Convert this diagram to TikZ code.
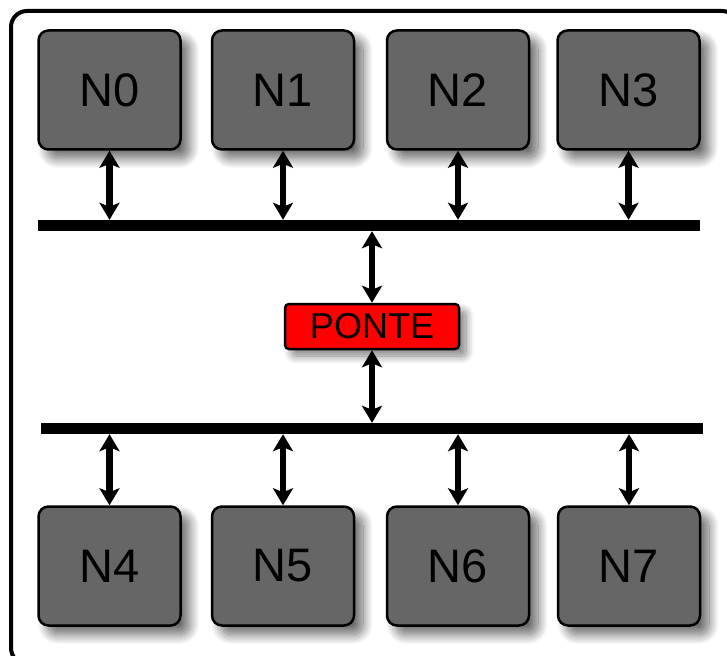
\documentclass[tikz,border=0pt]{standalone}
\usepackage{fontspec}
\setmainfont{Liberation Sans}
\usetikzlibrary{arrows.meta, shadows.blur}

\begin{document}
\begin{tikzpicture}[x = 1pt, y = 1pt, % one unit = one pixel
                line join = round,
                busarrow/.style = {{Stealth[length=17pt, width=20pt, inset=4pt]}-{Stealth[length=17pt,
                width=20pt, inset=4pt]}, line width = 6.5pt} % double headed connector
            ]

            \tikzstyle{every node}=[inner sep = 0pt, font = \fontsize{47}{50}\selectfont]
            \tikzstyle{nodebox}=[draw = black, line width = 2.5pt, fill = black!60,
                rounded corners = 10pt, minimum width = 142pt, minimum height = 119pt,
                blur shadow = {shadow xshift = 9pt, shadow yshift = -9pt,
                shadow blur steps = 16, shadow blur radius = 10pt, shadow opacity = 60}]
            \tikzstyle{busbar}=[fill = black, minimum width = 662pt, minimum height = 11pt]
            \tikzstyle{bridge}=[draw = black, line width = 2.5pt, fill = red,
                rounded corners = 4pt, minimum width = 174pt, minimum height = 45pt,
                font = \fontsize{36}{40}\selectfont,
                blur shadow = {shadow xshift = 7pt, shadow yshift = -7pt,
                shadow blur steps = 12, shadow blur radius = 8pt, shadow opacity = 50}]

            \useasboundingbox (0,0) rectangle (727,-655);
            \clip (0,0) rectangle (727,-655);
            \draw[line width = 4pt, rounded corners = 16pt] (11,-11) rectangle (738,-664);

            \node[nodebox] (N0) at (109.5,-90) {N0}; \node[nodebox] (N1) at (283,-90)
            {N1}; \node[nodebox] (N2) at (458,-90) {N2}; \node[nodebox] (N3) at
            (628.5,-90) {N3};

            \node[nodebox] (N4) at (109.5,-566) {N4}; \node[nodebox] (N5) at (283,-566)
            {N5}; \node[nodebox] (N6) at (458,-566) {N6}; \node[nodebox] (N7) at
            (629,-566) {N7};

            \node[busbar] (top) at (369,-225.5) {}; \node[busbar] (bottom) at
            (371.5,-428.5) {};

            \node[bridge] (ponte) at (372,-326.5) {PONTE};

            \draw[busarrow] (N0.south) -- (N0.south |- top.north); \draw[busarrow]
            (N1.south) -- (N1.south |- top.north); \draw[busarrow] (N2.south) --
            (N2.south |- top.north); \draw[busarrow] (N3.south) -- (N3.south |-
            top.north);

            \draw[busarrow] (N4.north) -- (N4.north |- bottom.south); \draw[busarrow]
            (N5.north) -- (N5.north |- bottom.south); \draw[busarrow] (N6.north) --
            (N6.north |- bottom.south); \draw[busarrow] (N7.north) -- (N7.north |-
            bottom.south);

            \draw[busarrow] (ponte.north) -- (ponte.north |- top.south); \draw[busarrow]
            (ponte.south) -- (ponte.south |- bottom.north);
        \end{tikzpicture}
\end{document}
